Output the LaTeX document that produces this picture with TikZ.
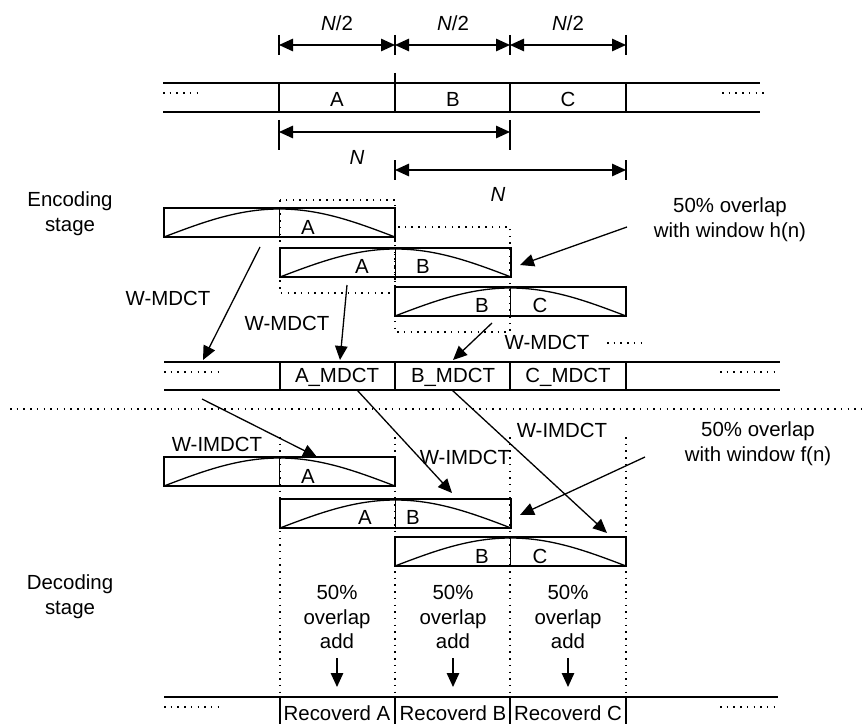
\documentclass[tikz,border=0pt]{standalone}
\usepackage{fontspec}
\setmainfont{Liberation Sans}
\usetikzlibrary{arrows.meta}
\newcommand\winshape[2]{%
  \draw (#1,#2) rectangle ++(231,29);
  \draw (#1+115.5,#2) -- ++(0,29);
  \draw plot[domain=0:180,samples=60] ({#1+\x/180*231},{#2+29-28*sin(\x)});
}
\begin{document}
\begin{tikzpicture}[x=1bp,y=-1bp, line width=1.3bp,
  every node/.style={font=\fontsize{20.5}{25}\selectfont, inner sep=0pt, align=center},
  arr/.style={-{Triangle[length=14bp,width=12.5bp]}},
  dim/.style={{Triangle[length=14bp,width=12.5bp]}-{Triangle[length=14bp,width=12.5bp]}},
  dots/.style={line width=1.5bp, dash pattern=on 1.5bp off 5.2bp},
]
\useasboundingbox (0,0) rectangle (864,724);

% ---------- top dimension arrows N/2
\node (h1) at (337,23) {\textit{N}/2};
\node (h2) at (453,23) {\textit{N}/2};
\node (h3) at (568,23) {\textit{N}/2};
\coordinate (t1) at (279,45);
\coordinate (t2) at (395,45);
\coordinate (t3) at (510,45);
\coordinate (t4) at (626,45);
\foreach \xx in {279,395,510,626} \draw (\xx,35) -- (\xx,55);
\draw[dim] (t1) -- (t2);
\draw[dim] (t2) -- (t3);
\draw[dim] (t3) -- (t4);

% ---------- input row
\draw (163,83) -- (760,83);
\draw (163,112) -- (760,112);
\draw (279,83) -- (279,112);
\draw (395,73) -- (395,112);
\draw (510,83) -- (510,112);
\draw (626,83) -- (626,112);
\draw[dots] (163,93) -- (203,93);
\draw[dots] (722,93) -- (768,93);
\node (iA) at (337,99) {A};
\node (iB) at (453,99) {B};
\node (iC) at (568,99) {C};

% ---------- N arrows
\coordinate (n1a) at (279,132);
\coordinate (n1b) at (510,132);
\draw (279,120) -- (279,150);
\draw (510,120) -- (510,150);
\draw[dim] (n1a) -- (n1b);
\node (lN1) at (357,157) {\textit{N}};
\coordinate (n2a) at (395,170);
\coordinate (n2b) at (626,170);
\draw (395,160) -- (395,180);
\draw (626,160) -- (626,180);
\draw[dim] (n2a) -- (n2b);
\node (lN2) at (498,194) {\textit{N}};

% ---------- encoding stage
\node (enc) at (70,214) {Encoding\\stage};
\draw[dots] (280,200) rectangle (395,293);
\draw[dots] (395,227) rectangle (510,332);
\winshape{164}{208}
\winshape{280}{248}
\winshape{395}{287}
\node (eA1) at (308,227) {A};
\node (eA2) at (362,266) {A};
\node (eB2) at (423,266) {B};
\node (eB3) at (482,305) {B};
\node (eC3) at (540,305) {C};

\node (ovh) at (730,220) {50\% overlap\\with window h(n)};
\coordinate (ovhs) at (627,227);
\coordinate (ovhe) at (520,265);
\draw[arr] (ovhs) -- (ovhe);

\node (wm1) at (168,298) {W-MDCT};
\node (wm2) at (287,323) {W-MDCT};
\node (wm3) at (547,342) {W-MDCT};
\draw[dots] (607,343) -- (645,343);

\coordinate (e1s) at (260,247);
\coordinate (e1e) at (203,360);
\coordinate (e2s) at (347,285);
\coordinate (e2e) at (340,360);
\coordinate (e3s) at (492,323);
\coordinate (e3e) at (453,360);
\draw[arr] (e1s) -- (e1e);
\draw[arr] (e2s) -- (e2e);
\draw[arr] (e3s) -- (e3e);

% ---------- MDCT row
\draw (164,362) -- (780,362);
\draw (164,390) -- (780,390);
\foreach \xx in {280,395,510,626} \draw (\xx,362) -- (\xx,390);
\draw[dots] (164,372) -- (222,372);
\draw[dots] (720,372) -- (780,372);
\node (mA) at (337,377) {A\_MDCT};
\node (mB) at (453,377) {B\_MDCT};
\node (mC) at (568,377) {C\_MDCT};

% ---------- separator
\draw[dots] (10,409) -- (864,409);

% ---------- decoding stage
\foreach \xx in {280,395,510,626} \draw[dots] (\xx,437) -- (\xx,697);
\winshape{164}{457}
\winshape{280}{499}
\winshape{395}{537}
\node (dA1) at (308,476) {A};
\node (dA2) at (365,517) {A};
\node (dB2) at (413,517) {B};
\node (dB3) at (482,556) {B};
\node (dC3) at (540,556) {C};

\node (wi1) at (217,444) {W-IMDCT};
\node (wi2) at (465,457) {W-IMDCT};
\node (wi3) at (562,430) {W-IMDCT};
\node (ovf) at (758,444) {50\% overlap\\with window f(n)};

\coordinate (d1s) at (202,399);
\coordinate (d1e) at (317,457);
\coordinate (d2s) at (357,390);
\coordinate (d2e) at (452,493);
\coordinate (d3s) at (452,390);
\coordinate (d3e) at (607,533);
\coordinate (ovfs) at (645,457);
\coordinate (ovfe) at (520,515);
\draw[arr] (d1s) -- (d1e);
\draw[arr] (d2s) -- (d2e);
\draw[arr] (d3s) -- (d3e);
\draw[arr] (ovfs) -- (ovfe);

\node (dec) at (70,597) {Decoding\\stage};

\node (oa1) at (337,617) {50\%\\overlap\\add};
\node (oa2) at (453,617) {50\%\\overlap\\add};
\node (oa3) at (568,617) {50\%\\overlap\\add};
\coordinate (a1s) at (337,658);
\coordinate (a1e) at (337,687);
\coordinate (a2s) at (453,658);
\coordinate (a2e) at (453,687);
\coordinate (a3s) at (568,658);
\coordinate (a3e) at (568,687);
\draw[arr] (a1s) -- (a1e);
\draw[arr] (a2s) -- (a2e);
\draw[arr] (a3s) -- (a3e);

% ---------- output row
\draw (164,697) -- (778,697);
\foreach \xx in {280,395,510,626} \draw (\xx,697) -- (\xx,730);
\draw[dots] (164,707) -- (222,707);
\draw[dots] (720,707) -- (778,707);
\node (rA) at (337,713) {Recoverd A};
\node (rB) at (453,713) {Recoverd B};
\node (rC) at (568,713) {Recoverd C};
\end{tikzpicture}
\end{document}
